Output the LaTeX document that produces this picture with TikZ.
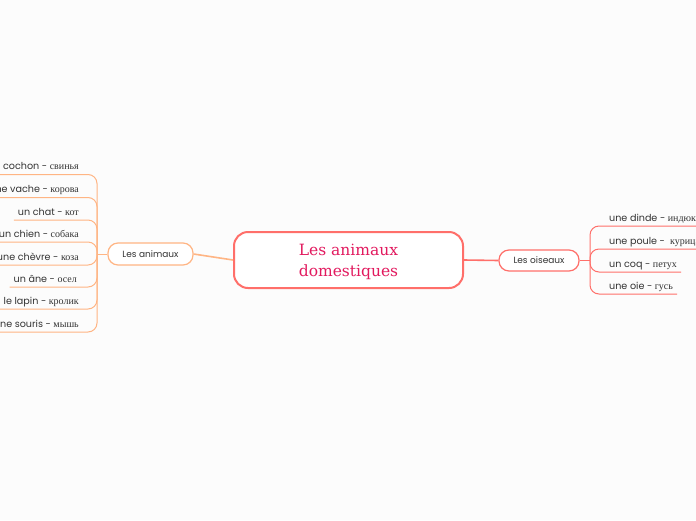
\documentclass[tikz,border=0pt]{standalone}
\usepackage{fontspec}
\setmainfont{Poppins}
\newfontfamily\rufont{Liberation Serif}
\newfontfamily\ctrfont{DejaVu Serif}
\definecolor{bgc}{HTML}{FCFCFC}
\definecolor{redb}{HTML}{FF6F6A}
\definecolor{orb}{HTML}{FFB584}
\definecolor{ctrtxt}{HTML}{E2195E}
\definecolor{txt}{HTML}{333333}
\newcommand{\ru}[1]{{\rufont\fontsize{10}{12}\selectfont #1}}
\tikzset{
  ctrnode/.style={draw=redb, line width=2pt, fill=white, rounded corners=14pt,
    minimum width=229pt, minimum height=56pt},
  ctrtext/.style={align=center, text=ctrtxt, inner sep=0pt,
    font=\ctrfont\fontsize{15.5}{21}\selectfont},
  mainL/.style={draw=orb, line width=1.2pt, fill=white, rounded corners=10pt,
    minimum width=85pt, minimum height=22pt, inner sep=0pt, text=txt,
    font=\fontsize{9}{11}\selectfont},
  mainR/.style={draw=redb, line width=1.2pt, fill=white, rounded corners=10pt,
    minimum width=80pt, minimum height=21pt, inner sep=0pt, text=txt,
    font=\fontsize{9}{11}\selectfont},
  leaf/.style={inner sep=0pt, text depth=4.5pt, text=txt,
    font=\fontsize{9.6}{12}\selectfont},
  leafL/.style={leaf, anchor=south east},
  leafR/.style={leaf, anchor=south west},
  linkL/.style={draw=orb, line width=1pt, rounded corners=9pt},
  linkR/.style={draw=redb, line width=1pt, rounded corners=9pt},
  conL/.style={draw=orb, line width=1.6pt},
  conR/.style={draw=redb, line width=1.6pt},
}
\begin{document}
\begin{tikzpicture}[x=1pt,y=-1pt]
\useasboundingbox (0,0) rectangle (696,520);
\fill[bgc] (0,0) rectangle (696,520);
\clip (0,0) rectangle (696,520);

\node[ctrnode] (c) at (348.5,260) {};
\node[ctrtext] (ct) at (348.5,262) {Les animaux\\domestiques};
\node[mainL] (a) at (150.5,254) {Les animaux};
\node[mainR] (o) at (539,260.5) {Les oiseaux};
\coordinate (bL) at (97,254);
\coordinate (bR) at (590,260.5);

\draw[conL] (a.east) -- (c.west);
\draw[conR] (c.east) -- (o.west);
\draw[linkL] (a.west) -- (bL);
\draw[linkR] (o.east) -- (bR);

% left leaves
\node[leafL] (l1) at (79,174.5) {un cochon - \ru{свинья}};
\node[leafL] (l2) at (79,197.5) {une vache - \ru{корова}};
\node[leafL] (l3) at (79,220) {un chat - \ru{кот}};
\node[leafL] (l4) at (79,242) {un chien - \ru{собака}};
\node[leafL] (l5) at (79,265) {une chèvre - \ru{коза}};
\node[leafL] (l6) at (77,287) {un âne - \ru{осел}};
\node[leafL] (l7) at (79,309) {le lapin - \ru{кролик}};
\node[leafL] (l8) at (79,332) {une souris - \ru{мышь}};
\foreach \i in {1,...,8}{
  \draw[linkL] (bL) |- ([xshift=-4pt]l\i.south west);
}

% right leaves
\node[leafR] (r1) at (609,226) {une dinde - \ru{индюк}};
\node[leafR] (r2) at (609,249) {une poule - \ \ru{курица}};
\node[leafR] (r3) at (609,272) {un coq - \ru{петух}};
\node[leafR] (r4) at (609,294) {une oie - \ru{гусь}};
\foreach \i in {1,...,4}{
  \draw[linkR] (bR) |- ([xshift=4pt]r\i.south east);
}
\end{tikzpicture}
\end{document}
